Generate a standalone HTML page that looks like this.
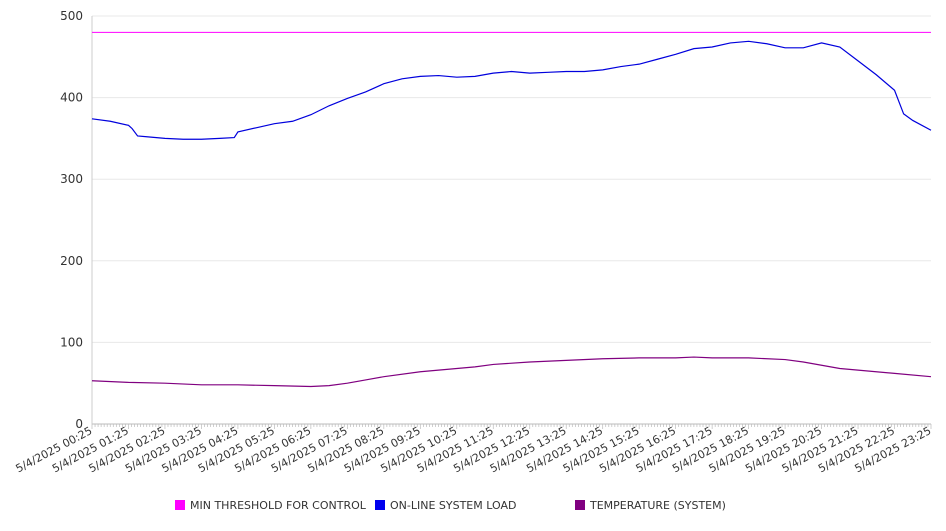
<!DOCTYPE html>
<html><head><meta charset="utf-8"><style>
body{margin:0;background:#fff;font-family:"Liberation Sans","DejaVu Sans",sans-serif}
svg text{font-family:"DejaVu Sans","Liberation Sans",sans-serif;fill:#333}
</style></head><body>
<svg id="chart" width="946" height="526" xmlns="http://www.w3.org/2000/svg">
<g id="grid"></g>
<g id="axes"></g>
<g id="series"></g>
<g id="legend" font-size="11">
<rect x="175" y="500" width="10" height="10" fill="#ff00ff"/>
<text x="190" y="509">MIN THRESHOLD FOR CONTROL</text>
<rect x="375" y="500" width="10" height="10" fill="#0000ee"/>
<text x="390" y="509">ON-LINE SYSTEM LOAD</text>
<rect x="575" y="500" width="10" height="10" fill="#800080"/>
<text x="590" y="509">TEMPERATURE (SYSTEM)</text>
</g>
</svg>
<script>
const hourLabels=["00:25","01:25","02:25","03:25","04:25","05:25","06:25","07:25","08:25","09:25","10:25","11:25","12:25","13:25","14:25","15:25","16:25","17:25","18:25","19:25","20:25","21:25","22:25","23:25"];
const yTicks=[0,100,200,300,400,500];
const threshold=480;
const loadHours=[0,0.5,1,1.1,1.25,1.5,2,2.5,3,3.5,3.9,4,4.5,5,5.5,6,6.5,7,7.5,8,8.5,9,9.5,10,10.5,11,11.5,12,12.5,13,13.5,14,14.5,15,15.5,16,16.5,17,17.5,18,18.5,19,19.5,20,20.5,21,21.5,22,22.25,22.5,23];
const loadValues=[374,371,366,362,353,352,350,349,349,350,351,358,363,368,371,379,390,399,407,417,423,426,427,425,426,430,432,430,431,432,432,434,438,441,447,453,460,462,467,469,466,461,461,467,462,445,428,409,380,372,360];
const tempHours=[0,1,2,3,4,5,6,6.5,7,7.5,8,9,10,10.5,11,12,13,14,15,16,16.5,17,18,19,19.5,20,20.5,21,22,23];
const tempValues=[53,51,50,48,48,47,46,47,50,54,58,64,68,70,73,76,78,80,81,81,82,81,81,79,76,72,68,66,62,58];
const L=92,R=931,T=16,B=424,NS="http://www.w3.org/2000/svg";
const xs=h=>L+h/23*(R-L);
const ys=v=>B-v/500*(B-T);
function mk(tag,attrs,parent){const e=document.createElementNS(NS,tag);for(const k in attrs)e.setAttribute(k,attrs[k]);parent.appendChild(e);return e;}
const grid=document.getElementById('grid'),axes=document.getElementById('axes'),series=document.getElementById('series');
yTicks.forEach(v=>{
 const g=mk('line',{x1:L,x2:R,y1:ys(v),y2:ys(v),stroke:v===0?'#bbb':'#e8e8e8'},grid);
 
 
 const t=mk('text',{x:83,y:ys(v)+4,'text-anchor':'end','font-size':12},axes);
 t.textContent=v;
 
 
});
const ax=mk('line',{x1:L,x2:L,y1:T,y2:B,stroke:'#ccc'},axes);


for(let i=0;i<=276;i++){
 const x=xs(i/12);
 const tk=mk('line',{x1:x,x2:x,y1:B,y2:B+(i%12===0?5:3),stroke:'#bbb','stroke-width':0.7},axes);
 
 
}
hourLabels.forEach((lb,i)=>{
 const x=xs(i)+1,y=B+9;
 const t=mk('text',{x:x,y:y,'text-anchor':'end','font-size':11,transform:`rotate(-28 ${x} ${y})`},axes);
 t.textContent='5/4/2025 '+lb;
 
 
});
const th=mk('line',{x1:L,x2:R,y1:ys(threshold),y2:ys(threshold),stroke:'#ff00ff','stroke-width':1},series);


const lp=mk('polyline',{points:loadHours.map((h,i)=>xs(h)+','+ys(loadValues[i])).join(' '),fill:'none',stroke:'#0000dd','stroke-width':1.2},series);


const tp=mk('polyline',{points:tempHours.map((h,i)=>xs(h)+','+ys(tempValues[i])).join(' '),fill:'none',stroke:'#800080','stroke-width':1.2},series);


</script>
</body></html>
